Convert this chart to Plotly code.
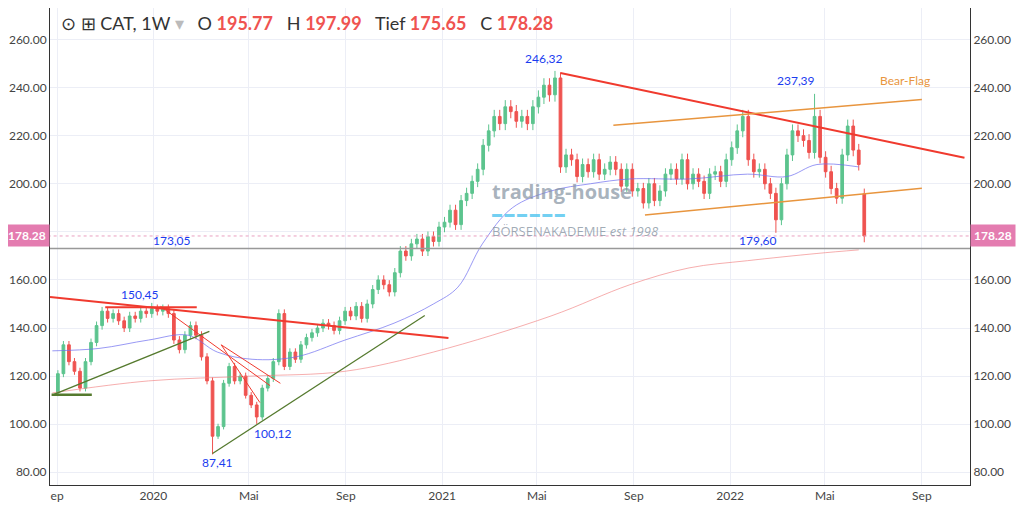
import plotly.graph_objects as go
import pandas as pd

closes = [121,133,126,122,115, 126,134,141,147, 144,146,143,140, 145,144,147,146,148,
          147,148,146,135, 131,137,141,137, 128,118,95,99,117, 124,118,120,112, 108,103,115,119,
          126,146,124,130,127, 133,136,138,140, 142,141,139,143,147, 145,149,144,150,
          156,160,158,155, 163,172,170,175,177, 172,178,176,182,
          184,189,183,193, 196,201,206,216, 222,228,225,232,230, 226,228,225,232,
          236,241,237,244,207, 212,210,203,208, 205,210,204,206, 209,206,199,206,197,
          198,192,200,193, 197,204,206,202, 210,200,204,201,196, 204,205,201,210,
          215,222,228,210,205, 206,200,196,185, 200,212,222,220, 218,213,228,211,
          205,198,194,212,224, 214,208,178.28]
last_ohlc = {"O": 195.77, "H": 197.99, "L": 175.65, "C": 178.28}
extremes = {"2019-12-30": 150.45, "2020-03-16": 87.41, "2020-05-11": 100.12,
            "2021-05-31": 246.32, "2022-02-28": 179.60, "2022-04-18": 237.39}

ma_fast_dates = ["2019-08-26","2019-10-24","2019-12-26","2020-02-14","2020-03-22","2020-05-05","2020-06-30",
                 "2020-08-31","2020-11-01","2020-12-21","2021-01-21","2021-02-21","2021-03-31","2021-05-19",
                 "2021-07-08","2021-08-27","2021-11-10","2022-01-23","2022-03-14","2022-04-21","2022-06-13"]
ma_fast = [130.5,131.5,135,137,130,127,128,135,142,150,157,175,190,197,200,202,202,204,203,208,207]
ma_slow_dates = ["2019-08-26","2019-12-26","2020-05-05","2020-08-31","2020-12-21","2021-05-19","2021-08-27","2021-11-10","2022-01-23","2022-04-21","2022-06-13"]
ma_slow = [113,118,120,122,130,145,158,165,168,171,172.5]

trend_lines = [  # (dates, values, color, width)
    (["2019-08-23","2021-01-09"], [152.9,135.8], "#f03a2e", 2),
    (["2019-11-01","2020-02-25"], [148.6,148.6], "#f03a2e", 2),
    (["2020-01-10","2020-05-28"], [149,116], "#f03a2e", 1),
    (["2020-03-27","2020-05-15"], [133,109], "#f03a2e", 1),
    (["2020-03-27","2020-06-10"], [133,117], "#f03a2e", 1),
    (["2019-08-28","2020-03-12"], [112.4,138.6], "#557a2e", 1.5),
    (["2019-08-25","2019-10-15"], [112.2,112.2], "#557a2e", 2.5),
    (["2020-03-16","2020-12-10"], [87.8,145.2], "#557a2e", 1.2),
    (["2021-05-31","2022-10-25"], [246.1,210.8], "#f03a2e", 2),
    (["2021-08-06","2022-09-01"], [224.3,235.0], "#e8953e", 1.5),
    (["2021-09-15","2022-09-01"], [187.0,198.1], "#e8953e", 1.5),
]

dates = pd.date_range("2019-09-02", periods=len(closes), freq="7D")
opens = [closes[0] - 8] + closes[:-1]
opens[-1] = last_ohlc["O"]
highs = [max(o, c) * 1.012 for o, c in zip(opens, closes)]
lows = [min(o, c) * 0.988 for o, c in zip(opens, closes)]
highs[-1], lows[-1] = last_ohlc["H"], last_ohlc["L"]
for d, v in extremes.items():
    i = list(dates.strftime("%Y-%m-%d")).index(d)
    if v > 200 and d != "2022-02-28" or d == "2019-12-30":
        highs[i] = v
    else:
        lows[i] = v

fig = go.Figure()
fig.add_trace(go.Scatter(x=ma_slow_dates, y=ma_slow, mode="lines", line=dict(color="rgba(240,120,120,0.6)", width=1, shape="spline")))
fig.add_trace(go.Scatter(x=ma_fast_dates, y=ma_fast, mode="lines", line=dict(color="rgba(110,110,240,0.7)", width=1, shape="spline")))
fig.add_trace(go.Candlestick(x=dates, open=opens, high=highs, low=lows, close=closes,
    increasing=dict(line=dict(color="#5cc48e", width=1), fillcolor="#5cc48e"),
    decreasing=dict(line=dict(color="#ef5350", width=1), fillcolor="#ef5350"), whiskerwidth=0))
for xs, ys, col, w in trend_lines:
    fig.add_trace(go.Scatter(x=xs, y=ys, mode="lines", line=dict(color=col, width=w)))
fig.add_trace(go.Scatter(x=["2019-08-20","2022-11-05"], y=[173.05,173.05], mode="lines", line=dict(color="#999", width=1.5)))
fig.add_trace(go.Scatter(x=["2019-08-20","2022-11-05"], y=[178.28,178.28], mode="lines", line=dict(color="#e9a0c0", width=1, dash="dot")))
fig.add_trace(go.Scatter(x=[dates[0]], y=[178.28], yaxis="y2", mode="markers", marker=dict(opacity=0)))

blue = "#1a3cf0"
labels = [("2020-01-25",176.3,"173,05"), ("2019-12-15",154,"150,45"), ("2020-06-01",96,"100,12"),
          ("2020-03-22",84,"87,41"), ("2021-05-10",252,"246,32"), ("2022-03-25",243,"237,39"), ("2022-02-05",176.3,"179,60")]
for x, y, t in labels:
    fig.add_annotation(x=x, y=y, text=t, showarrow=False, font=dict(color=blue, size=12))
fig.add_annotation(x="2022-08-10", y=243, text="Bear-Flag", showarrow=False, font=dict(color="#e8953e", size=12))

red = "#ef5350"
fig.add_annotation(xref="paper", yref="paper", x=0.01, y=0.995, xanchor="left", yanchor="top", showarrow=False,
    text=f"⊙ ⊞ CAT, 1W <span style='color:#bbb'>▾</span>   O <b style='color:{red}'>195.77</b>   H <b style='color:{red}'>197.99</b>   Tief <b style='color:{red}'>175.65</b>   C <b style='color:{red}'>178.28</b>",
    font=dict(size=18, color="#333", family="Lato"))
fig.add_annotation(xref="paper", yref="paper", x=0.478, y=0.615, xanchor="left", showarrow=False,
    text="<b>trading-house</b>", font=dict(size=20, color="rgba(130,145,160,0.7)", family="Open Sans"))
fig.add_annotation(xref="paper", yref="paper", x=0.478, y=0.57, xanchor="left", showarrow=False,
    text="▬ ▬ ▬ ▬ ▬ ▬", font=dict(size=10, color="rgba(90,200,240,0.85)"))
fig.add_annotation(xref="paper", yref="paper", x=0.478, y=0.532, xanchor="left", showarrow=False,
    text="BÖRSENAKADEMIE <i>est 1998</i>", font=dict(size=13, color="rgba(120,135,150,0.7)", family="Open Sans"))
for xp, anc in [(0, "right"), (1, "left")]:
    fig.add_annotation(xref="paper", y=178.28, x=xp, xanchor=anc, showarrow=False, text="<b>178.28</b>",
        bgcolor="#e47cb0", font=dict(color="white", size=12), borderpad=3)

tickv = ["2019-09-01","2020-01-01","2020-05-01","2020-09-01","2021-01-01","2021-05-01","2021-09-01","2022-01-01","2022-05-01","2022-09-01"]
tickt = ["ep","2020","Mai","Sep","2021","Mai","Sep","2022","Mai","Sep"]
yt = list(range(80, 261, 20))
fig.update_layout(width=1016, height=500, margin=dict(l=42, r=54, t=0, b=23), showlegend=False,
    plot_bgcolor="white", paper_bgcolor="white", font=dict(family="Lato", color="#444", size=12),
    xaxis=dict(range=["2019-08-23","2022-11-01"], tickvals=tickv, ticktext=tickt, rangeslider=dict(visible=False),
               showgrid=True, gridcolor="#eceef6", showline=True, linecolor="#333", mirror=False, ticks=""),
    yaxis=dict(range=[74.7, 273.1], tickvals=yt, ticktext=[f"{v}.00" for v in yt], gridcolor="#eceef6",
               showline=True, linecolor="#333", zeroline=False),
    yaxis2=dict(range=[74.7, 273.1], tickvals=yt, ticktext=[f"{v}.00" for v in yt], overlaying="y", side="right",
                showgrid=False, showline=True, linecolor="#333", zeroline=False))
fig.write_html("out.html")
